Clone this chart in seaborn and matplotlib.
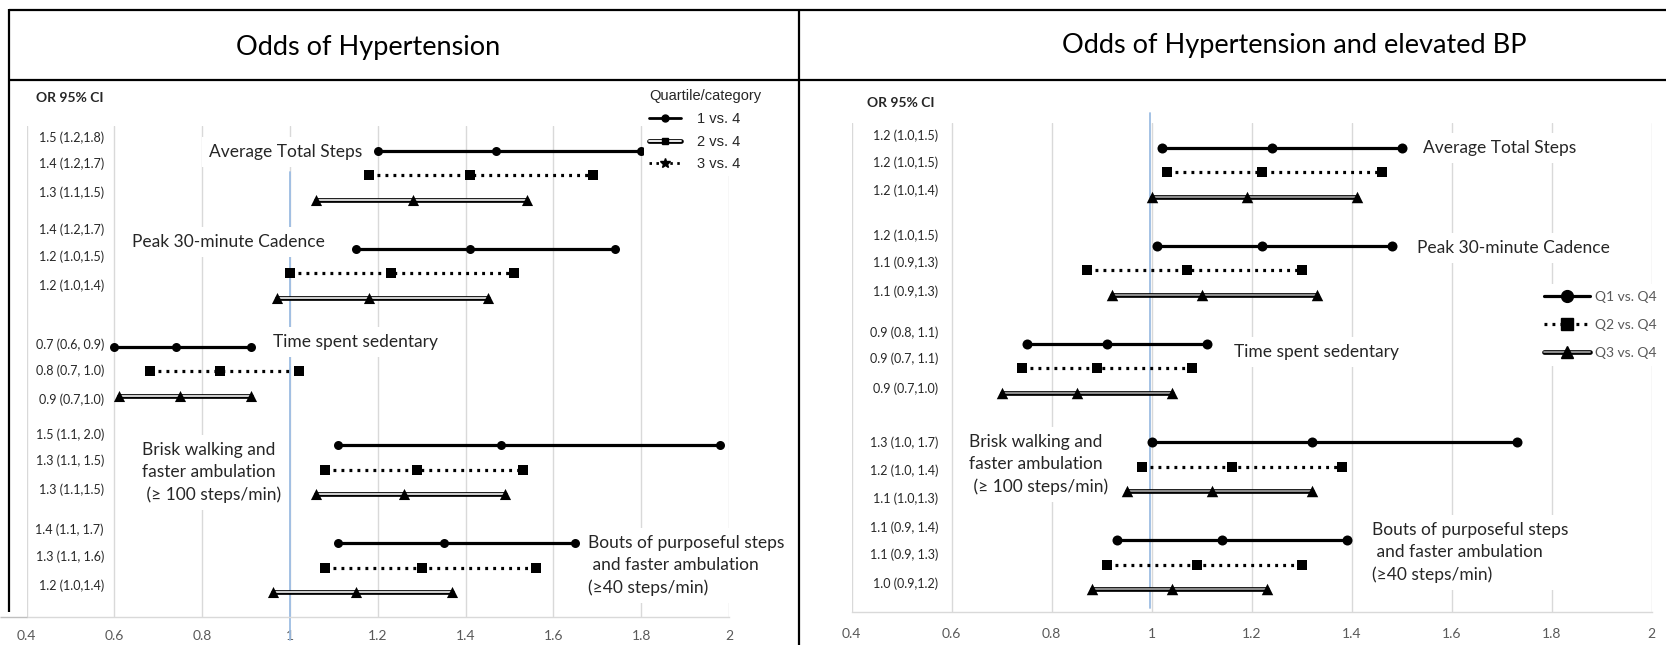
import matplotlib
matplotlib.use("Agg")
import matplotlib.pyplot as plt
from matplotlib.lines import Line2D
from matplotlib.legend_handler import HandlerTuple
from matplotlib.ticker import FuncFormatter
import pandas as pd
import seaborn as sns

# ---------------------------------------------------------------- data
GROUPS = [
    "Average Total Steps",
    "Peak 30-minute Cadence",
    "Time spent sedentary",
    "Brisk walking and\nfaster ambulation\n (\u2265 100 steps/min)",
    "Bouts of purposeful steps\n and faster ambulation\n(\u226540 steps/min)",
]
QUARTILES = ["Q1 vs. Q4", "Q2 vs. Q4", "Q3 vs. Q4"]
CATEGORY_LABELS = ["1 vs. 4", "2 vs. 4", "3 vs. 4"]
XTICKS = [0.4, 0.6, 0.8, 1.0, 1.2, 1.4, 1.6, 1.8, 2.0]

# Odds of hypertension (group-major, Q1..Q3 within each group)
HTN_LO = [1.20, 1.18, 1.06, 1.15, 1.00, 0.97, 0.60, 0.68, 0.61,
          1.11, 1.08, 1.06, 1.11, 1.08, 0.96]
HTN_OR = [1.47, 1.41, 1.28, 1.41, 1.23, 1.18, 0.74, 0.84, 0.75,
          1.48, 1.29, 1.26, 1.35, 1.30, 1.15]
HTN_HI = [1.80, 1.69, 1.54, 1.74, 1.51, 1.45, 0.91, 1.02, 0.91,
          1.98, 1.53, 1.49, 1.65, 1.56, 1.37]
HTN_TEXT = ["1.5 (1.2,1.8)", "1.4 (1.2,1.7)", "1.3 (1.1,1.5)",
            "1.4 (1.2,1.7)", "1.2 (1.0,1.5)", "1.2 (1.0,1.4)",
            "0.7 (0.6, 0.9)", "0.8 (0.7, 1.0)", "0.9 (0.7,1.0)",
            "1.5 (1.1, 2.0)", "1.3 (1.1, 1.5)", "1.3 (1.1,1.5)",
            "1.4 (1.1, 1.7)", "1.3 (1.1, 1.6)", "1.2 (1.0,1.4)"]

# Odds of hypertension and elevated BP
BP_LO = [1.02, 1.03, 1.00, 1.01, 0.87, 0.92, 0.75, 0.74, 0.70,
         1.00, 0.98, 0.95, 0.93, 0.91, 0.88]
BP_OR = [1.24, 1.22, 1.19, 1.22, 1.07, 1.10, 0.91, 0.89, 0.85,
         1.32, 1.16, 1.12, 1.14, 1.09, 1.04]
BP_HI = [1.50, 1.46, 1.41, 1.48, 1.30, 1.33, 1.11, 1.08, 1.04,
         1.73, 1.38, 1.32, 1.39, 1.30, 1.23]
BP_TEXT = ["1.2 (1.0,1.5)", "1.2 (1.0,1.5)", "1.2 (1.0,1.4)",
           "1.2 (1.0,1.5)", "1.1 (0.9,1.3)", "1.1 (0.9,1.3)",
           "0.9 (0.8, 1.1)", "0.9 (0.7, 1.1)", "0.9 (0.7,1.0)",
           "1.3 (1.0, 1.7)", "1.2 (1.0, 1.4)", "1.1 (1.0,1.3)",
           "1.1 (0.9, 1.4)", "1.1 (0.9, 1.3)", "1.0 (0.9,1.2)"]


def long_table(lo, est, hi):
    recs = []
    for i, vals in enumerate(zip(lo, est, hi)):
        g, q = divmod(i, 3)
        for v in vals:
            recs.append({"group": GROUPS[g], "quartile": QUARTILES[q],
                         "row": 4 * g + q, "value": v})
    return pd.DataFrame(recs)


htn = long_table(HTN_LO, HTN_OR, HTN_HI)
bp = long_table(BP_LO, BP_OR, BP_HI)

# ---------------------------------------------------------------- style
sns.set_style("white")
plt.rcParams["font.family"] = ["Lato", "DejaVu Sans"]

W, H = 1666, 645
fig = plt.figure(figsize=(W / 100, H / 100), dpi=100)


def fx(px):
    return px / W


def fy(py):
    return 1 - py / H


def fig_line(x0, y0, x1, y1, color="black", lw=1.6):
    fig.add_artist(Line2D([fx(x0), fx(x1)], [fy(y0), fy(y1)],
                          color=color, lw=lw, solid_capstyle="butt"))


DOT = (0, (0.9, 1.6))
GRID = "#d9d9d9"
TICKC = "#595959"
BLUE = "#9dbde3"


def draw_intervals(ax, df, inner, msz):
    q1, q2, q3 = (df[df["quartile"] == q] for q in QUARTILES)
    common = dict(x="value", y="row", units="row", estimator=None,
                  legend=False, ax=ax)
    sns.lineplot(data=q1, color="black", lw=2.3, zorder=4, **common)
    sns.lineplot(data=q2, color="black", lw=2.3, linestyle=DOT, zorder=4, **common)
    sns.lineplot(data=q3, color="black", lw=3.4, zorder=4, **common)
    sns.lineplot(data=q3, color=inner, lw=1.3, zorder=4.1, **common)
    for sub, mk, s in ((q1, "o", msz[0]), (q2, "s", msz[1]), (q3, "^", msz[2])):
        sns.scatterplot(data=sub, x="value", y="row", marker=mk, s=s,
                        color="black", edgecolor="black", linewidth=0,
                        legend=False, ax=ax, zorder=6)


def style_axes(ax, ylim, pad):
    ax.set_xlim(XTICKS[0], XTICKS[-1])
    ax.set_ylim(*ylim)
    ax.set_xticks(XTICKS)
    ax.xaxis.set_major_formatter(FuncFormatter(lambda v, _: f"{v:g}"))
    ax.set_yticks([])
    ax.set(xlabel="", ylabel="")
    ax.grid(axis="x", color=GRID, lw=1.0)
    ax.grid(axis="y", visible=False)
    ax.set_axisbelow(True)
    for side in ("top", "left", "right"):
        ax.spines[side].set_visible(False)
    ax.spines["bottom"].set_color(GRID)
    ax.spines["bottom"].set_linewidth(1.0)
    ax.tick_params(axis="x", length=0, labelsize=10, labelcolor=TICKC, pad=pad)


def group_text(ax, x, y, s, ha="left", z=3):
    ax.text(x, y, s, fontsize=12.5, ha=ha, va="center", linespacing=1.47,
            zorder=z, bbox=dict(boxstyle="square,pad=0.4", fc="white", ec="none"))


# ---------------------------------------------------------------- left panel
axL = fig.add_axes([fx(26.7), fy(617), fx(729 - 26.7), (617 - 126) / H])
draw_intervals(axL, htn, "#e4e4e4", (42, 52, 64))
style_axes(axL, (19, -1), 9.5)
axL.axvline(1.0, ymin=(617 - 640) / 491, ymax=(617 - 172) / 491,
            color=BLUE, lw=1.3, zorder=2, clip_on=False)

HTN_LABEL_Y = [-0.54, 0.55, 1.72, 3.24, 4.32, 5.50, 7.89, 8.98, 10.13,
               11.56, 12.65, 13.80, 15.46, 16.54, 17.73]
for t, y in zip(HTN_TEXT, HTN_LABEL_Y):
    axL.text(0.576, y, t, fontsize=9, ha="right", va="center")

group_text(axL, 1.164, 0.05, GROUPS[0], ha="right")
group_text(axL, 0.641, 3.71, GROUPS[1])
group_text(axL, 0.961, 7.81, GROUPS[2])
group_text(axL, 0.662, 13.1, GROUPS[3], z=1.5)
group_text(axL, 1.679, 16.9, GROUPS[4])

# ---------------------------------------------------------------- right panel
axR = fig.add_axes([fx(851.7), fy(611.7), fx(800), (611.7 - 123.2) / H])
draw_intervals(axR, bp, "#9a9a9a", (52, 56, 68))
style_axes(axR, (18.92, -1), 12)
axR.axvline(0.997, ymin=(611.7 - 608) / 488.5, ymax=(611.7 - 113) / 488.5,
            color=BLUE, lw=1.3, zorder=2, clip_on=False)

BP_LABEL_Y = [-0.49, 0.61, 1.77, 3.59, 4.69, 5.87, 7.53, 8.62, 9.81,
              12.05, 13.17, 14.33, 15.49, 16.61, 17.76]
for t, y in zip(BP_TEXT, BP_LABEL_Y):
    axR.text(0.573, y, t, fontsize=9, ha="right", va="center")

group_text(axR, 1.543, 0.02, GROUPS[0])
group_text(axR, 1.530, 4.08, GROUPS[1])
group_text(axR, 1.165, 8.32, GROUPS[2])
group_text(axR, 0.635, 12.9, GROUPS[3])
group_text(axR, 1.440, 16.5, GROUPS[4])

# ---------------------------------------------------------------- headers & frame
fig.text(fx(368), fy(47), "Odds of Hypertension", fontsize=19.5,
         fontweight="normal", color="black", ha="center", va="center")
fig.text(fx(1294), fy(45), "Odds of Hypertension and elevated BP", fontsize=19.5,
         fontweight="normal", color="black", ha="center", va="center")
fig.text(fx(70), fy(98), "OR 95% CI", fontsize=10, fontweight="bold",
         ha="center", va="center")
fig.text(fx(901), fy(103), "OR 95% CI", fontsize=10, fontweight="bold",
         ha="center", va="center")

fig_line(9, 10, W, 10)
fig_line(9, 80, W, 80)
fig_line(9, 9.2, 9, 612)
fig_line(799, 9.2, 799, H)
fig_line(0, 617, 26.7, 617, color="#bfbfbf", lw=1.0)


# ---------------------------------------------------------------- legends
def double_handle(inner, marker, ms):
    return (Line2D([], [], color="black", lw=3.4),
            Line2D([], [], color=inner, lw=1.3),
            Line2D([], [], ls="none", marker=marker, ms=ms, color="black"))


overlay = {tuple: HandlerTuple(ndivide=1, pad=0)}
arial = {"family": "Liberation Sans", "size": 10.5}
left_handles = [
    Line2D([], [], color="black", lw=2.0, marker="o", ms=5),
    double_handle("white", "s", 5),
    Line2D([], [], color="black", lw=2.0, ls=DOT, marker="*", ms=7),
]
fig.legend(left_handles, CATEGORY_LABELS, loc="upper left",
           bbox_to_anchor=(fx(644), fy(84)), title="Quartile/category",
           prop=arial, title_fontproperties=arial, alignment="left",
           frameon=True, facecolor="white", edgecolor="none", fancybox=False,
           framealpha=1, handlelength=2.2, handletextpad=1.1, labelspacing=0.6,
           borderpad=0.35, borderaxespad=0, handler_map=overlay)

right_handles = [
    Line2D([], [], color="black", lw=2.3, marker="o", ms=8.5),
    Line2D([], [], color="black", lw=2.3, ls=DOT, marker="s", ms=8),
    double_handle("#9a9a9a", "^", 8),
]
fig.legend(right_handles, QUARTILES, loc="upper left",
           bbox_to_anchor=(fx(1537), fy(284)), prop={"size": 10},
           labelcolor=TICKC, frameon=True, facecolor="white", edgecolor="none",
           fancybox=False, framealpha=1, handlelength=3.3, handletextpad=0.35,
           labelspacing=1.15, borderpad=0.5, borderaxespad=0,
           handler_map=overlay)

fig.savefig("out.png", dpi=100, facecolor="white")
